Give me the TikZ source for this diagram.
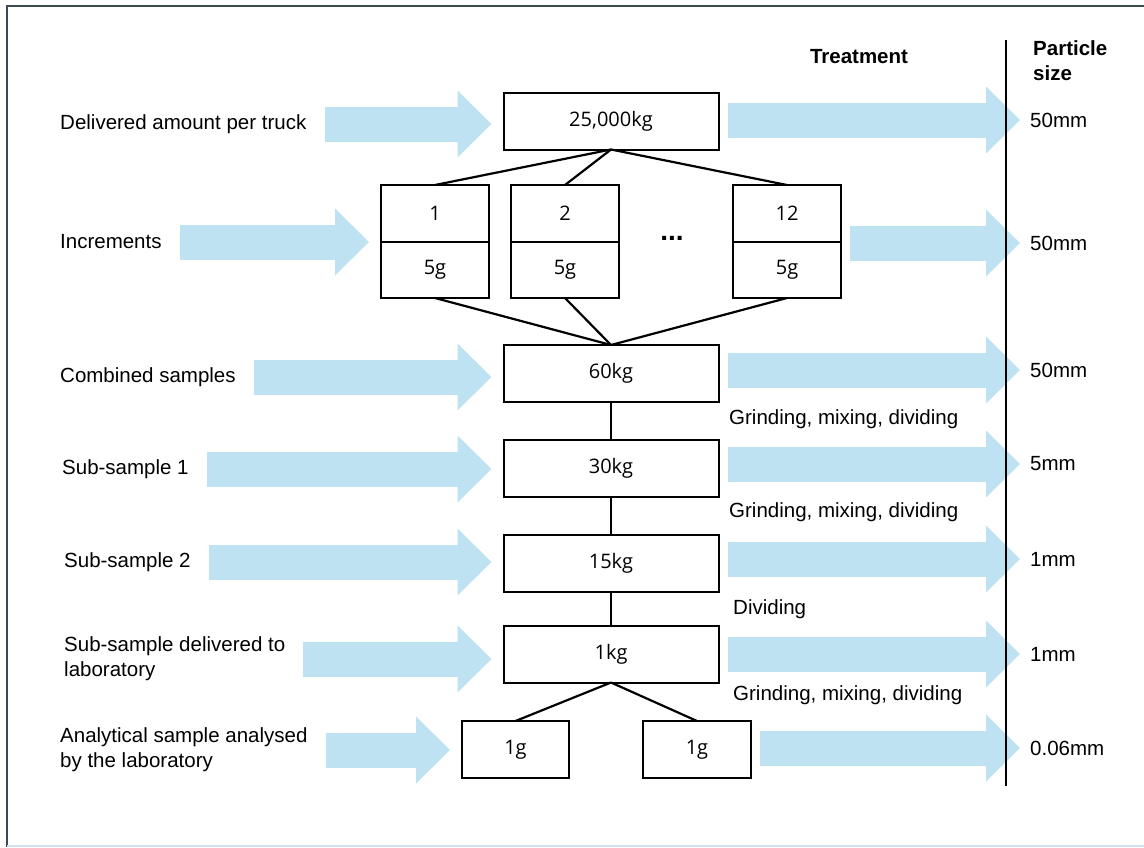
\documentclass[tikz,border=0pt]{standalone}
\usepackage{fontspec}
\setmainfont{Liberation Sans}
\newfontfamily\boxfont{Open Sans}
\usetikzlibrary{arrows.meta,positioning}
\definecolor{flowblue}{RGB}{190,226,242}
\definecolor{framegray}{RGB}{58,76,82}
\definecolor{framelight}{RGB}{205,226,234}
\tikzset{box/.style={draw, line width=2pt, outer sep=0pt, inner sep=0pt, minimum width=215pt, minimum height=57pt, font=\boxfont\fontsize{20}{24}\selectfont}}
\tikzset{smallbox/.style={box, minimum width=108pt}}
\tikzset{lbl/.style={anchor=west, inner sep=0pt, align=left, font=\fontsize{20.5}{25}\selectfont}}
\tikzset{flow/.style={draw=flowblue, line width=35pt, shorten <=18pt, shorten >=12pt, -{Triangle[length=34pt, width=67pt, line width=0pt]}}}
\tikzset{link/.style={line width=2.2pt}}

\begin{document}
\begin{tikzpicture}[x=1pt, y=-1pt]
    \useasboundingbox (0,0) rectangle (1144,847);
    % frame
    \draw[framegray, line width=2.5pt] (7,847) -- (7,6) -- (1144,6);
    \draw[framelight, line width=2pt] (7,846) -- (1144,846);

    % headers
    \node[lbl, anchor=base, font=\bfseries\fontsize{20.5}{25}\selectfont] (treat) at (859,63) {Treatment};
    \node[lbl, anchor=north west, font=\bfseries\fontsize{20.5}{25}\selectfont] (psize) at (1033,40) {Particle\\size};

    % sample boxes
    \node[box] (truck) at (611,121) {25,000kg};
    \foreach \x/\n/\lab in {435/1/1, 565/2/2, 787/3/12}{
        \node[smallbox] (inc\n) at (\x,213.5) {\lab};
        \node[smallbox, minimum height=56pt, below=0pt of inc\n] (incw\n) {5g};
    }
    \node[font=\bfseries\fontsize{28}{30}\selectfont] (dots) at (672,238) {...};
    \node[box] (comb) at (611,373.5) {60kg};
    \node[box] (sub1) at (611,468.5) {30kg};
    \node[box] (sub2) at (611,563.5) {15kg};
    \node[box] (lab) at (611,654) {1kg};
    \node[smallbox, minimum width=107pt] (ana1) at (515.5,749.5) {1g};
    \node[smallbox] (ana2) at (697,749.5) {1g};

    % links
    \foreach \n in {1,2,3}{
        \draw[link] (truck.south) -- (inc\n.north);
        \draw[link] (incw\n.south) -- (comb.north);
    }
    \draw[link] (comb) -- (sub1);
    \draw[link] (sub1) -- (sub2);
    \draw[link] (sub2) -- (lab);
    \draw[link] (lab.south) -- (ana1.north);
    \draw[link] (lab.south) -- (ana2.north);

    % row labels
    \node[lbl] (l1) at (60,124) {Delivered amount per truck};
    \node[lbl] (l2) at (60,242) {Increments};
    \node[lbl] (l3) at (60,377) {Combined samples};
    \node[lbl] (l4) at (62,469) {Sub-sample 1};
    \node[lbl] (l5) at (64,562) {Sub-sample 2};
    \node[lbl] (l6) at (64,659) {Sub-sample delivered to\\laboratory};
    \node[lbl] (l7) at (60,750) {Analytical sample analysed\\by the laboratory};

    % particle sizes
    \node[lbl] (s1) at (1030,120) {50mm};
    \node[lbl] (s2) at (1030,243) {50mm};
    \node[lbl] (s3) at (1030,370) {50mm};
    \node[lbl] (s4) at (1030,464) {5mm};
    \node[lbl] (s5) at (1030,559) {1mm};
    \node[lbl] (s6) at (1030,654) {1mm};
    \node[lbl] (s7) at (1030,748) {0.06mm};

    % treatments
    \node[lbl] (t1) at (729,419) {Grinding, mixing, dividing};
    \node[lbl] (t2) at (729,512) {Grinding, mixing, dividing};
    \node[lbl] (t3) at (733,609) {Dividing};
    \node[lbl] (t4) at (733,695) {Grinding, mixing, dividing};

    % arrows in
    \foreach \l/\b in {l1/truck, l2/inc1, l3/comb, l4/sub1, l5/sub2, l6/lab, l7/ana1}
        \draw[flow] (\l.east) -- (\l.east -| \b.west);
    % arrows out
    \foreach \b/\s in {truck/s1, inc3/s2, comb/s3, sub1/s4, sub2/s5, lab/s6, ana2/s7}
        \draw[flow, shorten <=9pt, shorten >=10pt] (\s.west -| \b.east) -- (\s.west);

    % size axis
    \draw[line width=2pt] (1006,40) coordinate (axtop) -- (1006,786) coordinate (axbot);
\end{tikzpicture}
\end{document}
